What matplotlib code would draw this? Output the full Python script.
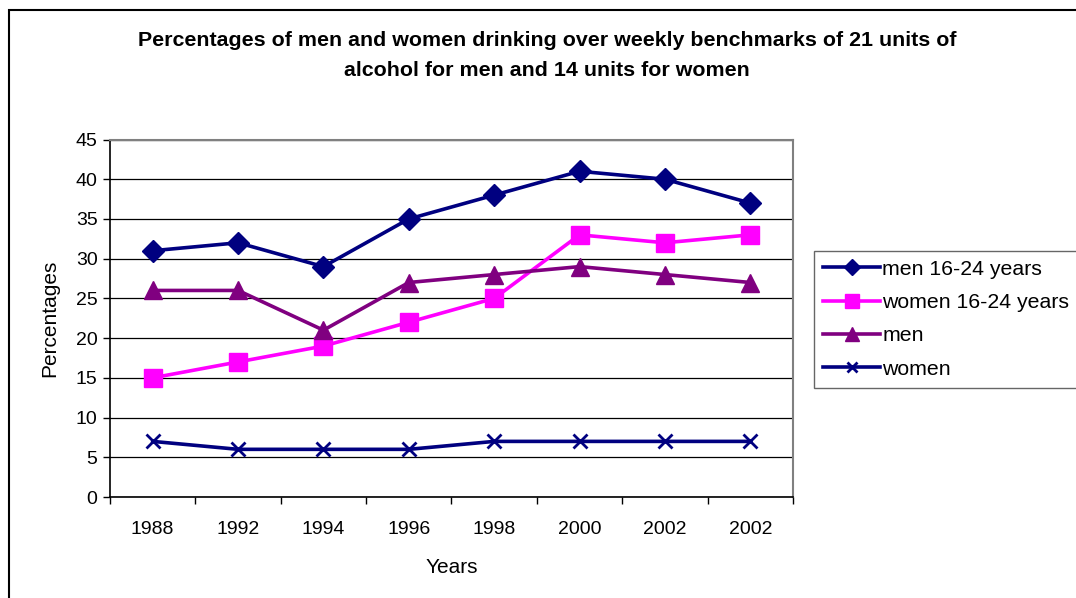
import numpy as np
import matplotlib
matplotlib.use("Agg")
import matplotlib.pyplot as plt
from matplotlib.patches import Rectangle

# Chart data
years = ["1988", "1992", "1994", "1996", "1998", "2000", "2002", "2002"]
men_16_24 = [31, 32, 29, 35, 38, 41, 40, 37]
women_16_24 = [15, 17, 19, 22, 25, 33, 32, 33]
men_all = [26, 26, 21, 27, 28, 29, 28, 27]
women_all = [7, 6, 6, 6, 7, 7, 7, 7]

plt.rcParams['font.family'] = ['Liberation Sans', 'DejaVu Sans']

W, H = 1076, 598
fig = plt.figure(figsize=(W / 100, H / 100), dpi=100)
ax = fig.add_axes([110 / W, 1 - 497 / H, (793 - 110) / W, (497 - 139.5) / H])

x = np.arange(len(years))
ax.plot(x, men_16_24, color='#000080', lw=2.6, marker='D', markersize=11,
        label='men 16-24 years', zorder=4)
ax.plot(x, women_16_24, color='#FF00FF', lw=2.6, marker='s', markersize=13,
        label='women 16-24 years', zorder=3)
ax.plot(x, men_all, color='#800080', lw=2.6, marker='^', markersize=13,
        label='men', zorder=3)
ax.plot(x, women_all, color='#000080', lw=2.6, marker='x', markersize=10,
        markeredgewidth=2, label='women', zorder=3)

ax.set_xlim(-0.5, len(years) - 0.5)
ax.set_ylim(0, 45)
ax.set_yticks(range(0, 46, 5))
ax.yaxis.grid(True, color='black', lw=0.9)
ax.set_axisbelow(True)

# category ticks at the boundaries, labels centred
ax.set_xticks(np.arange(-0.5, len(years), 1.0))
ax.set_xticklabels([])
ax.set_xticks(x, minor=True)
ax.set_xticklabels(years, minor=True)
ax.tick_params(axis='x', which='minor', length=0, pad=17, labelsize=14)
ax.tick_params(axis='x', which='major', length=5, width=1, direction='out')
ax.tick_params(axis='y', length=5, width=1, direction='out', labelsize=14, pad=4)

for side in ['top', 'right']:
    ax.spines[side].set_color('#808080')
    ax.spines[side].set_linewidth(1.5)
for side in ['left', 'bottom']:
    ax.spines[side].set_color('black')
    ax.spines[side].set_linewidth(1.2)

ax.set_xlabel("Years", fontsize=15, labelpad=15)
ax.set_ylabel("Percentages", fontsize=15, labelpad=12)

fig.text(547 / W, 1 - 41 / H,
         "Percentages of men and women drinking over weekly benchmarks of 21 units of",
         ha='center', va='center', fontsize=15.4, fontweight='bold')
fig.text(547 / W, 1 - 70 / H, "alcohol for men and 14 units for women",
         ha='center', va='center', fontsize=15.4, fontweight='bold')

leg = fig.legend(loc='upper left', bbox_to_anchor=(814 / W, 1 - 251 / H),
                 fontsize=15.3, frameon=True, fancybox=False, edgecolor='#404040',
                 handlelength=2.7, handletextpad=0.1, labelspacing=0.67,
                 borderpad=0.42, borderaxespad=0, markerscale=0.75)
leg.get_frame().set_linewidth(1.0)

# outer chart border
fig.patches.append(Rectangle((9 / W, -0.1), 1.2, 1.1 - 10 / H, transform=fig.transFigure,
                             fill=False, edgecolor='black', lw=1.5))

fig.savefig("out.png", dpi=100)
